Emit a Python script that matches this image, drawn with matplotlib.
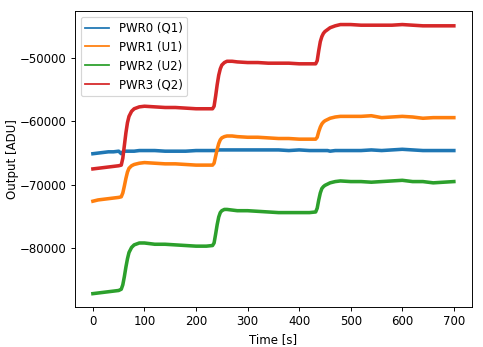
import matplotlib
matplotlib.use("Agg")
import matplotlib.pyplot as plt

# time axis [s], sampled more densely around the steps
t = [0, 10, 20, 30, 40, 50, 55, 58, 61, 64, 67, 70, 75, 80, 90, 100,
     120, 140, 160, 180, 200, 220, 232, 235, 238, 241, 244, 247, 250, 255,
     260, 270, 280, 300, 320, 340, 360, 380, 400, 420, 432, 435, 438, 441,
     444, 447, 450, 455, 460, 470, 480, 500, 520, 540, 560, 580, 600, 620,
     640, 660, 680, 700]

pwr0 = [-65100, -65000, -64900, -64800, -64800, -64700, -65100, -64800, -64700, -64700,
        -64700, -64700, -64700, -64700, -64600, -64600, -64600, -64700, -64700, -64700,
        -64600, -64600, -64600, -64600, -64600, -64600, -64500, -64500, -64500, -64500,
        -64500, -64500, -64500, -64500, -64500, -64500, -64500, -64600, -64500, -64600,
        -64600, -64600, -64600, -64600, -64600, -64600, -64600, -64600, -64700, -64600,
        -64600, -64600, -64600, -64500, -64600, -64500, -64400, -64500, -64600, -64600,
        -64600, -64600]

pwr1 = [-72600, -72400, -72300, -72200, -72100, -72000, -71900, -71300, -70200, -69000,
        -68000, -67400, -67000, -66800, -66600, -66500, -66600, -66700, -66700, -66800,
        -66900, -66900, -66900, -66600, -65500, -64400, -63500, -62900, -62600, -62400,
        -62300, -62300, -62400, -62500, -62500, -62600, -62700, -62700, -62800, -62800,
        -62800, -62500, -61600, -60900, -60400, -60100, -59900, -59700, -59500, -59300,
        -59200, -59200, -59200, -59100, -59400, -59300, -59200, -59300, -59500, -59400,
        -59400, -59400]

pwr2 = [-87200, -87100, -87000, -86900, -86800, -86700, -86500, -85800, -84500, -83000,
        -81700, -80700, -79900, -79500, -79200, -79200, -79400, -79400, -79500, -79600,
        -79700, -79700, -79600, -79200, -77800, -76300, -75100, -74400, -74100, -73900,
        -73900, -74000, -74100, -74100, -74200, -74300, -74400, -74400, -74400, -74400,
        -74300, -73700, -72400, -71300, -70600, -70300, -70100, -69900, -69700, -69500,
        -69400, -69500, -69500, -69600, -69500, -69400, -69300, -69500, -69500, -69700,
        -69600, -69500]

pwr3 = [-67500, -67400, -67300, -67200, -67100, -67000, -66900, -65800, -63800, -61800,
        -60200, -59200, -58400, -58000, -57700, -57600, -57700, -57800, -57800, -57900,
        -58000, -58000, -58000, -57600, -56000, -54200, -52700, -51700, -51100, -50700,
        -50500, -50500, -50600, -50700, -50700, -50800, -50800, -50800, -50900, -50900,
        -50900, -50400, -48800, -47400, -46600, -46100, -45800, -45500, -45200, -44900,
        -44700, -44700, -44800, -44800, -44800, -44800, -44700, -44800, -44900, -44900,
        -44900, -44900]

labels = ['PWR0 (Q1)', 'PWR1 (U1)', 'PWR2 (U2)', 'PWR3 (Q2)']

dpi = 85
fig = plt.figure(figsize=(483 / dpi, 347 / dpi), dpi=dpi)
ax = fig.add_axes([0.155, 0.115, 0.822, 0.853])
for y, lab in zip([pwr0, pwr1, pwr2, pwr3], labels):
    ax.plot(t, y, lw=3.0, label=lab)

ax.set_xlabel('Time [s]')
ax.set_ylabel('Output [ADU]', labelpad=1)
leg = ax.legend(loc='upper left')
for ln in leg.get_lines():
    ln.set_linewidth(1.5)

fig.savefig('out.png', dpi=dpi)
